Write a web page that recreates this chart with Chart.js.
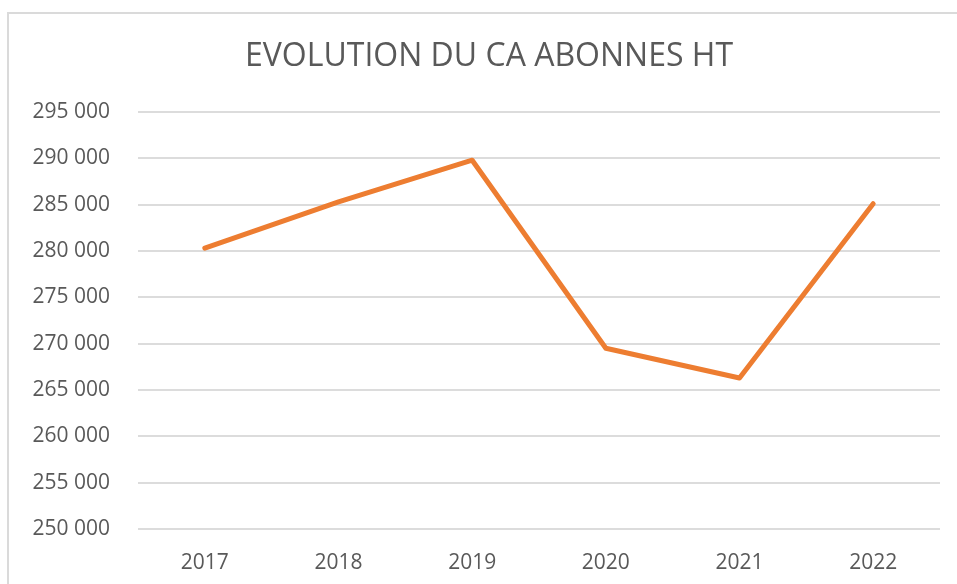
<!DOCTYPE html>
<html lang="fr">
<head>
<meta charset="utf-8">
<title>Evolution du CA abonnés HT</title>
<script src="https://cdn.jsdelivr.net/npm/chart.js@4.4.1/dist/chart.umd.min.js"></script>
<style>
    html, body { margin: 0; padding: 0; background: #fff; overflow: hidden; }
    #frame {
        position: absolute;
        left: 7px; top: 12px;
        width: 980px; height: 600px;
        border-left: 2px solid #dadada;
        border-top: 2px solid #dadada;
    }
    #wrap { position: absolute; left: 0; top: 0; width: 957px; height: 584px; }
</style>
</head>
<body>
<div id="frame"></div>
<div id="wrap"><canvas id="chartCA"></canvas></div>
<script>
// ===============================
// DONNEES
// ===============================
const years = ["2017", "2018", "2019", "2020", "2021", "2022"];
const caAbonnesHT = [280300, 285300, 289800, 269500, 266300, 285100];
const yTicks = [250000, 255000, 260000, 265000, 270000, 275000, 280000, 285000, 290000, 295000];

const TITLE = "EVOLUTION DU CA ABONNES HT";
const textColor = "#595959";
const gridColor = "#dcdcdc";
const lineColor = "#ED7D31";

const fmtFr = (v) => String(Math.round(v)).replace(/\B(?=(\d{3})+(?!\d))/g, " ");

// titre centré sur le cadre (pas sur le canvas), comme dans Excel
const excelTitle = {
    id: "excelTitle",
    afterDraw(chart) {
        const { ctx } = chart;
        ctx.save();
        ctx.fillStyle = textColor;
        ctx.font = "normal 32px 'Open Sans', sans-serif";
        ctx.textAlign = "center";
        ctx.textBaseline = "middle";
        ctx.fillText(TITLE, 489, 57);
        ctx.restore();
    }
};

document.addEventListener("DOMContentLoaded", () => {
    const el = document.getElementById("chartCA");

    new Chart(el, {
        type: "line",
        data: {
            labels: years,
            datasets: [{
                label: "CA abonnés HT",
                data: caAbonnesHT,
                borderColor: lineColor,
                borderWidth: 5,
                borderCapStyle: "round",
                borderJoinStyle: "round",
                pointRadius: 0,
                tension: 0,
                fill: false
            }]
        },
        options: {
            responsive: true,
            maintainAspectRatio: false,
            animation: false,
            layout: { padding: { left: 0, right: 17, top: 112, bottom: 0 } },
            plugins: {
                legend: { display: false },
                tooltip: { enabled: false },
                title: { display: false }
            },
            scales: {
                x: {
                    offset: true,
                    grid: { display: false },
                    border: { display: false },
                    afterFit: (scale) => { scale.height = 55; },
                    ticks: {
                        color: textColor,
                        padding: 13,
                        font: { family: "'Open Sans', sans-serif", size: 21 }
                    }
                },
                y: {
                    min: yTicks[0],
                    max: yTicks[yTicks.length - 1],
                    afterBuildTicks: (scale) => { scale.ticks = yTicks.map((v) => ({ value: v })); },
                    afterFit: (scale) => { scale.width = 138; },
                    grid: { color: gridColor, lineWidth: 2, drawTicks: false },
                    border: { display: false },
                    ticks: {
                        color: textColor,
                        padding: 28,
                        font: { family: "'Open Sans', sans-serif", size: 21 },
                        callback: (v) => fmtFr(v)
                    }
                }
            }
        },
        plugins: [excelTitle]
    });
});
</script>
</body>
</html>
